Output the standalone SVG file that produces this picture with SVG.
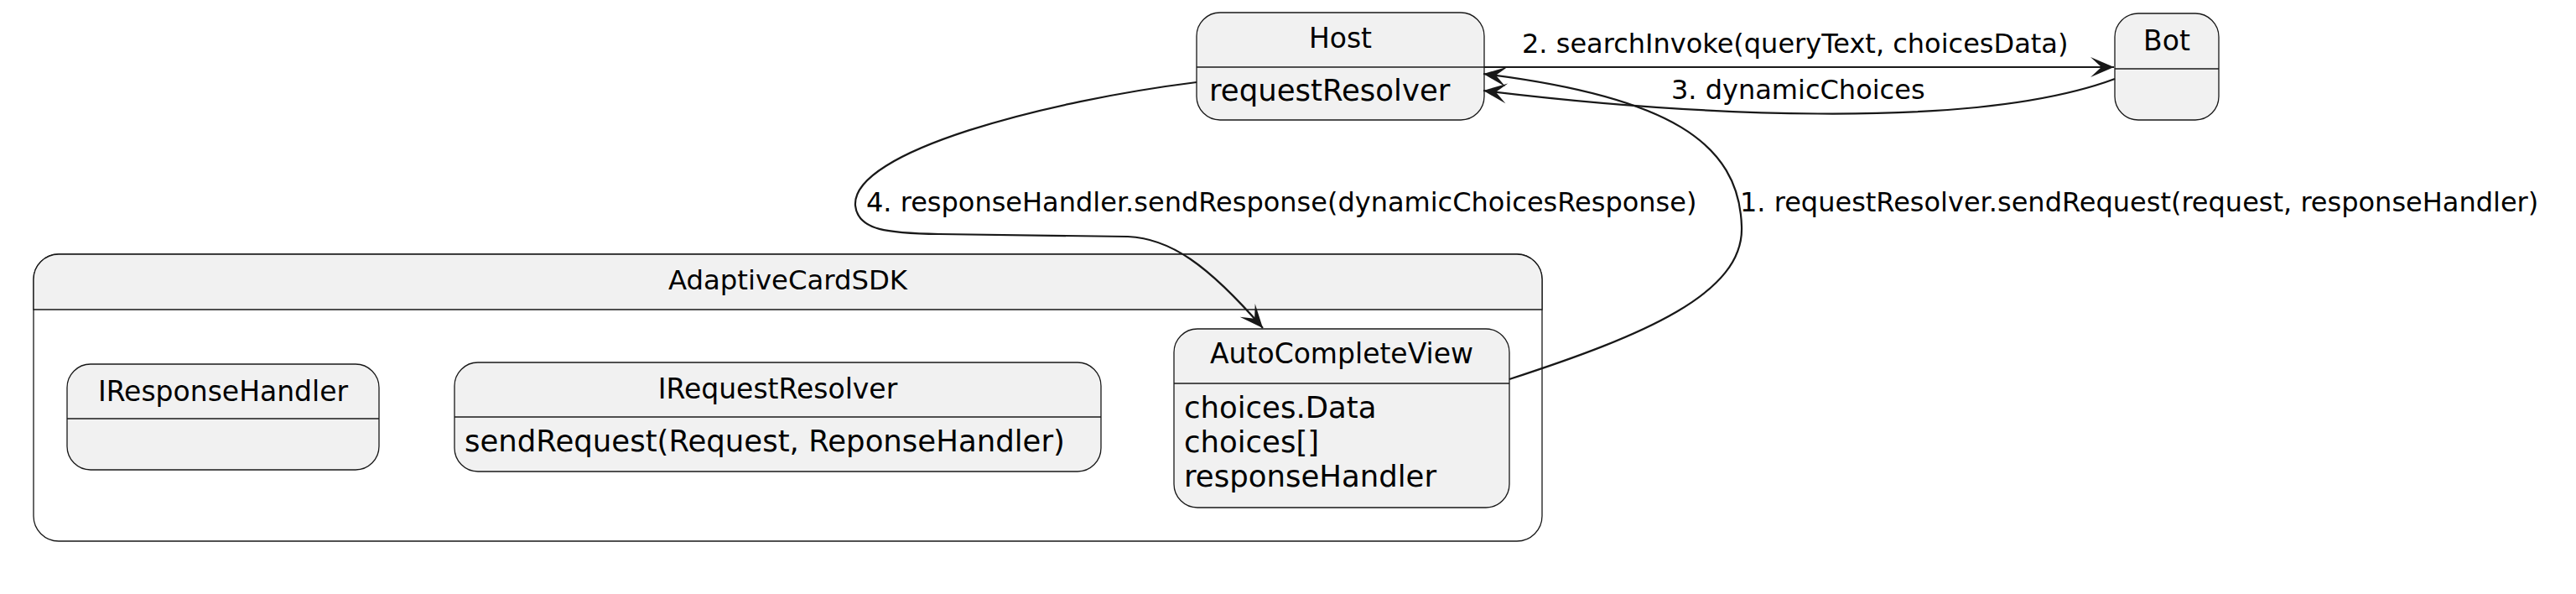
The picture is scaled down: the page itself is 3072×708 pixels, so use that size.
<svg xmlns="http://www.w3.org/2000/svg" width="3072" height="708" viewBox="0 0 3072 708">
<style>
.box{fill:#F1F1F1;stroke:#181818;stroke-width:1.3}
.cont{fill:#FFFFFF;stroke:#181818;stroke-width:1.3}
.div{stroke:#181818;stroke-width:1.3;fill:none}
.title{font-family:"DejaVu Sans",sans-serif;font-size:33px;fill:#000;text-anchor:middle}
.attr{font-family:"DejaVu Sans",sans-serif;font-size:35.5px;fill:#000}
.lbl{font-family:"DejaVu Sans",sans-serif;font-size:32px;fill:#000}
.edge{fill:none;stroke:#181818;stroke-width:2.2}
</style>
<defs>
<marker id="ah" markerUnits="userSpaceOnUse" viewBox="-30 -14 32 28" refX="0" refY="0" markerWidth="32" markerHeight="28" orient="auto">
<path d="M0,0 L-28,-12 L-15,0 L-28,12 Z" fill="#181818"/>
</marker>
</defs>
<rect width="3072" height="708" fill="#FFFFFF"/>

<g id="AdaptiveCardSDK">
<path class="cont" d="M70,303 H1809 A30,30 0 0 1 1839,333 V615 A30,30 0 0 1 1809,645 H70 A30,30 0 0 1 40,615 V333 A30,30 0 0 1 70,303 Z"/>
<path d="M70,303 H1809 A30,30 0 0 1 1839,333 V369 H40 V333 A30,30 0 0 1 70,303 Z" fill="#F1F1F1" stroke="#181818" stroke-width="1.3"/>
<text class="title" x="939.5" y="345" style="font-size:32.3px">AdaptiveCardSDK</text>
</g>

<g id="Host">
<rect class="box" x="1427" y="15" width="343" height="128" rx="28" ry="28"/>
<line class="div" x1="1427" y1="80" x2="1770" y2="80"/>
<text class="title" x="1598.5" y="57">Host</text>
<text class="attr" x="1442" y="120">requestResolver</text>
</g>

<g id="Bot">
<rect class="box" x="2522" y="16" width="124" height="127" rx="28" ry="28"/>
<line class="div" x1="2522" y1="82" x2="2646" y2="82"/>
<text class="title" x="2584" y="60">Bot</text>
</g>

<g id="IResponseHandler">
<rect class="box" x="80" y="434" width="372" height="126" rx="28" ry="28"/>
<line class="div" x1="80" y1="499" x2="452" y2="499"/>
<text class="title" x="266" y="478">IResponseHandler</text>
</g>

<g id="IRequestResolver">
<rect class="box" x="542" y="432" width="771" height="130" rx="28" ry="28"/>
<line class="div" x1="542" y1="497" x2="1313" y2="497"/>
<text class="title" x="927.5" y="475">IRequestResolver</text>
<text class="attr" x="554" y="538">sendRequest(Request, ReponseHandler)</text>
</g>

<g id="AutoCompleteView">
<rect class="box" x="1400" y="392" width="400" height="213" rx="28" ry="28"/>
<line class="div" x1="1400" y1="457" x2="1800" y2="457"/>
<text class="title" x="1600" y="433">AutoCompleteView</text>
<text class="attr" x="1412" y="498">choices.Data</text>
<text class="attr" x="1412" y="539">choices[]</text>
<text class="attr" x="1412" y="580">responseHandler</text>
</g>

<g id="connectors">
<path class="edge" d="M1770,80 L2521,80" marker-end="url(#ah)"/>
<text class="lbl" x="1815" y="63">2. searchInvoke(queryText, choicesData)</text>

<path class="edge" d="M2522,94 C2350,158 2000,136 1769,108" marker-end="url(#ah)"/>
<text class="lbl" x="1993" y="118">3. dynamicChoices</text>

<path class="edge" d="M1800,452 C1960,400 2080,350 2077,270 C2074,170 1990,115 1769,88" marker-end="url(#ah)"/>
<text class="lbl" x="2075" y="252">1. requestResolver.sendRequest(request, responseHandler)</text>

<path class="edge" d="M1427,98 C1250,120 1015,180 1020,245 C1023,275 1060,278 1120,279 L1345,282 C1395,284 1440,315 1506,391" marker-end="url(#ah)"/>
<text class="lbl" x="1033" y="252">4. responseHandler.sendResponse(dynamicChoicesResponse)</text>
</g>
</svg>
